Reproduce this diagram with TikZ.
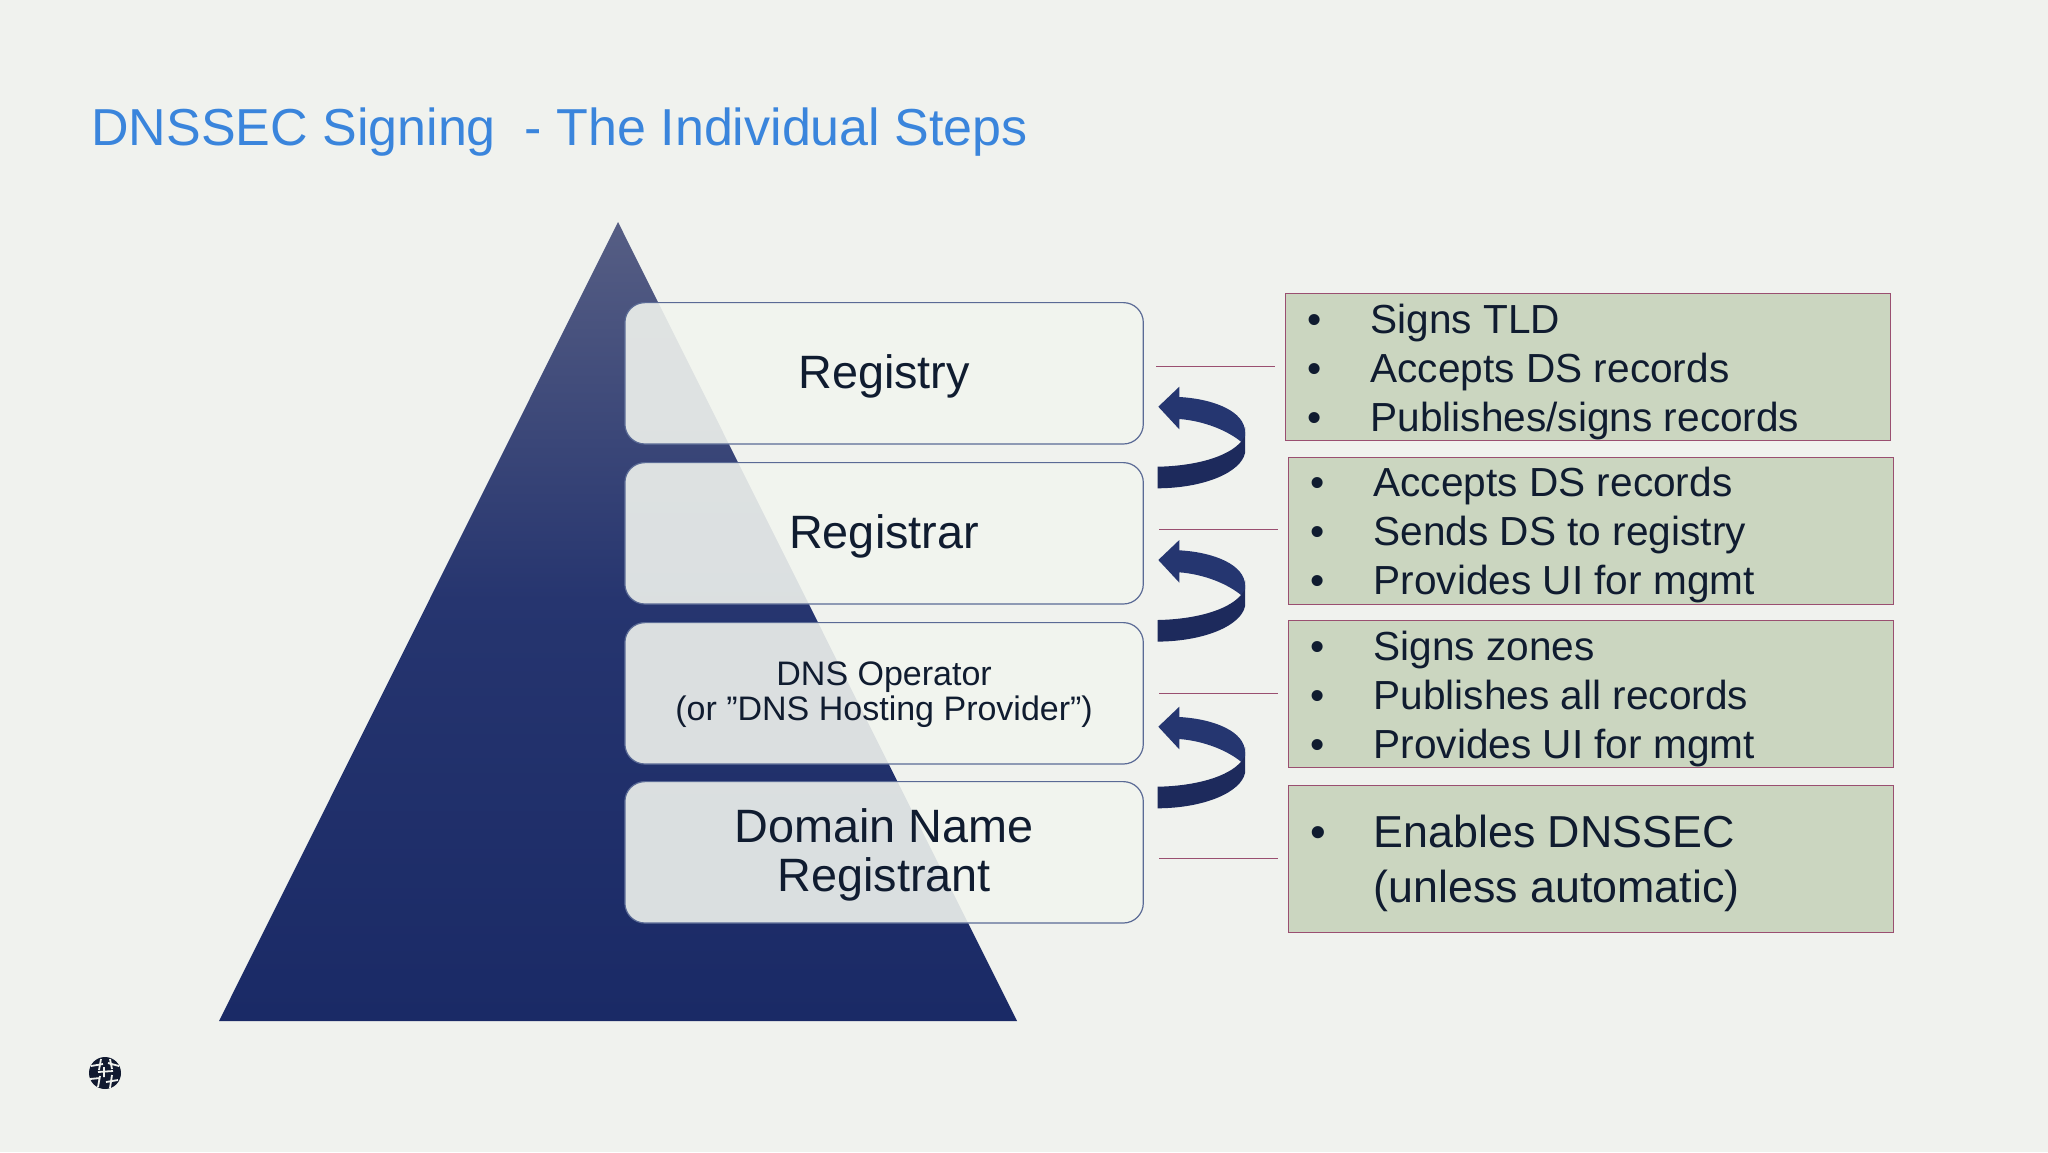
\documentclass[tikz,border=0pt]{standalone}
\usepackage{fontspec}
\setmainfont{Liberation Sans}
\definecolor{bgc}{HTML}{F0F2EE}
\definecolor{titlec}{HTML}{3A85DC}
\definecolor{inkc}{HTML}{101C30}
\definecolor{greenc}{HTML}{CBD6C0}
\definecolor{plumc}{HTML}{9A4F70}
\definecolor{stepedge}{HTML}{5A6A95}
\definecolor{stepfill}{HTML}{F2F5EF}
\definecolor{pyrtop}{HTML}{565E84}
\definecolor{pyrmid}{HTML}{26356F}
\definecolor{pyrbot}{HTML}{1A2A66}
\definecolor{arrup}{HTML}{253670}
\definecolor{arrlow}{HTML}{1D2A5C}
\definecolor{logoc}{HTML}{111A30}
\tikzset{
  stepbox/.style={draw=stepedge,line width=0.6pt,fill=stepfill,fill opacity=0.89,draw opacity=1,text opacity=1,rounded corners=10pt,minimum width=259.2pt,minimum height=70.7pt,inner sep=0pt,text=inkc,align=center,anchor=north west},
  greenbox/.style={draw=plumc,line width=0.6pt,fill=greenc,minimum width=302.5pt,minimum height=73.6pt,inner sep=0pt,anchor=north west},
  listtext/.style={text=inkc,font=\fontsize{20.3}{24.5}\selectfont,align=left,inner sep=0pt,anchor=west},
  tick/.style={draw=plumc,line width=0.5pt},
}
\newcommand{\bul}[1]{\makebox[31.6pt][l]{•}#1}
\newcommand{\lowr}[2][1.3pt]{\raisebox{-#1}[\height][\depth]{#2}}
\newcommand{\curlarrow}[1]{%
  \begin{scope}[yshift=#1]
  \fill[arrlow] (1245,427) -- (1245,453) .. controls (1241,472) and (1205,488) .. (1157.7,488.3) -- (1157.7,466.7) .. controls (1195,466) and (1228,457) .. (1241,441.7) -- cycle;
  \fill[arrup] (1158.3,406.7) -- (1179.3,386.7) -- (1179.3,397) .. controls (1215,399) and (1245,412) .. (1245,432) -- (1245,436) -- (1241,441.7) .. controls (1228,431) and (1205,421) .. (1179.3,419) -- (1179.3,429.3) -- cycle;
  \end{scope}}
\begin{document}
\begin{tikzpicture}[x=0.5pt,y=-0.5pt]
\useasboundingbox (0,0) rectangle (2048,1152);
\fill[bgc] (0,0) rectangle (2048,1152);
\node[text=titlec,font=\fontsize{26}{32}\selectfont,anchor=base west,inner sep=0pt] (title) at (91,145) {DNSSEC Signing\ \ - The Individual Steps};
% pyramid
\begin{scope}
\clip (618,222) -- (1017,1021) -- (219,1021) -- cycle;
\shade[top color=pyrtop,bottom color=pyrmid] (200,222) rectangle (1040,600);
\shade[top color=pyrmid,bottom color=pyrbot] (200,600) rectangle (1040,1021);
\end{scope}
% step boxes
\node[stepbox,font=\fontsize{23.4}{28}\selectfont] (registry) at (624.3,302) {\lowr{Registry}};
\node[stepbox,font=\fontsize{23.4}{28}\selectfont] (registrar) at (624.3,462) {\lowr{Registrar}};
\node[stepbox,font=\fontsize{17}{17.5}\selectfont] (operator) at (624.3,622) {\lowr[0.7pt]{DNS Operator}\\\lowr[0.7pt]{(or ”DNS Hosting Provider”)}};
\node[stepbox,font=\fontsize{23.4}{24.5}\selectfont] (registrant) at (624.3,781) {\lowr{Domain Name}\\\lowr{Registrant}};
% green boxes
\node[greenbox] (g1) at (1285,292.7) {};
\node[greenbox] (g2) at (1288,456.7) {};
\node[greenbox] (g3) at (1288,620) {};
\node[greenbox] (g4) at (1288,784.5) {};
\node[listtext] (t1) at (1307,371.5) {\bul{Signs TLD}\\\bul{Accepts DS records}\\\bul{Publishes/signs records}};
\node[listtext] (t2) at (1310,535) {\bul{Accepts DS records}\\\bul{Sends DS to registry}\\\bul{Provides UI for mgmt}};
\node[listtext] (t3) at (1310,698.5) {\bul{Signs zones}\\\bul{Publishes all records}\\\bul{Provides UI for mgmt}};
\node[listtext,font=\fontsize{22.4}{27.4}\selectfont] (t4) at (1310,863.5) {\bul{Enables DNSSEC}\\\hspace*{31.6pt}(unless automatic)};
% ticks
\coordinate (a1) at (1156,366); \coordinate (b1) at (1275,366);
\coordinate (a2) at (1159,529); \coordinate (b2) at (1278,529);
\coordinate (a3) at (1159,693); \coordinate (b3) at (1278,693);
\coordinate (a4) at (1159,858); \coordinate (b4) at (1278,858);
\draw[tick] (a1) -- (b1);
\draw[tick] (a2) -- (b2);
\draw[tick] (a3) -- (b3);
\draw[tick] (a4) -- (b4);
% curved arrows
\curlarrow{0pt}
\curlarrow{-76.65pt}
\curlarrow{-160pt}
% logo
\fill[logoc] (105,1073) circle (16);
\draw[bgc,line width=0.9pt] (91,1066)--(103,1064) (108,1063)--(119,1066) (90,1079)--(100,1078) (106,1082)--(118,1080) (98,1072)--(113,1071) (101,1059)--(99,1070) (100,1076)--(98,1087) (110,1059)--(112,1069) (112,1075)--(110,1088) (104,1067)--(104,1077);
\end{tikzpicture}
\end{document}
